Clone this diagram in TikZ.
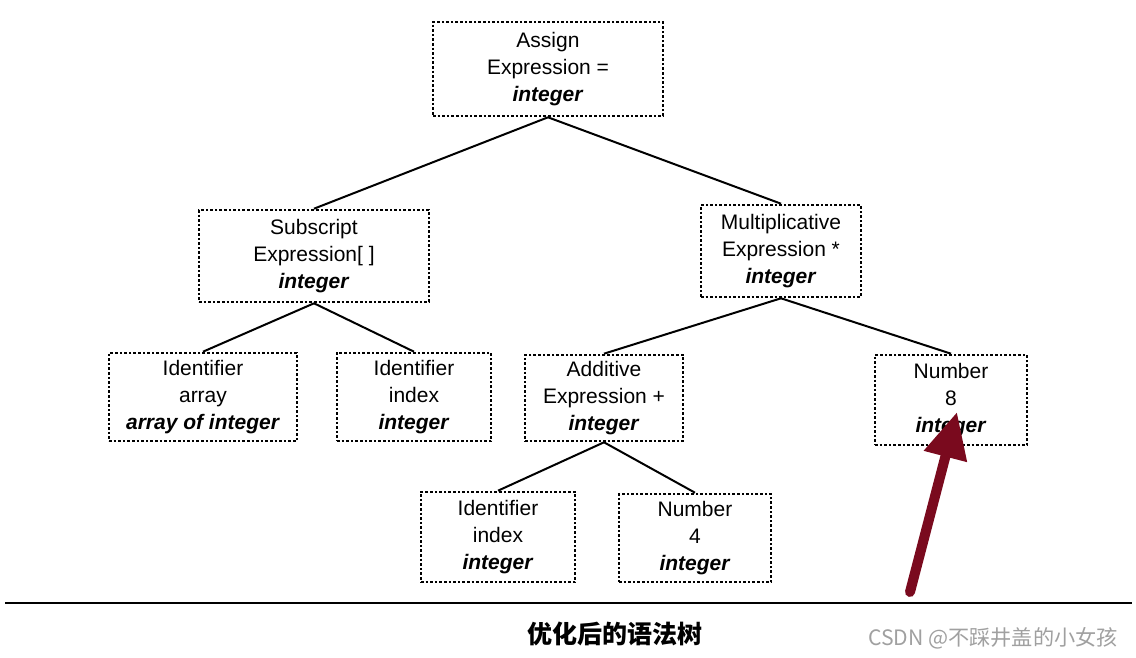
\documentclass[tikz,border=0pt]{standalone}
\usepackage{fontspec}
\setmainfont{Liberation Sans}
\newfontfamily\cjkfont{Noto Sans CJK SC}
\usetikzlibrary{arrows.meta, positioning}
\definecolor{arrowred}{HTML}{7A0A1E}
\definecolor{markgray}{HTML}{A0A0A0}
\newcommand{\tyname}[1]{\textbf{\textit{#1}}}

\begin{document}
\begin{tikzpicture}[
    x=0.5pt, y=-0.5pt,
    treenode/.style={draw, densely dotted, line width=1.3pt, align=center,
                     inner sep=0pt, font=\fontsize{10.5}{13.5}\selectfont},
    branch/.style={line width=1pt},
]
    \useasboundingbox (0,0) rectangle (1136,658);

    % Root
    \node[treenode, minimum width=115pt, minimum height=47pt] (assign) at (548,69) {Assign\\Expression =\\\tyname{integer}};

    % Second level
    \node[treenode, minimum width=115pt, minimum height=46pt] (subscr) at (314,256) {Subscript\\Expression[ ]\\\tyname{integer}};
    \node[treenode, minimum width=80pt, minimum height=46pt] (mult) at (781,251) {Multiplicative\\Expression *\\\tyname{integer}};

    % Third level
    \node[treenode, minimum width=94pt, minimum height=44pt] (idarray) at (203,397) {Identifier\\array\\\tyname{array of integer}};
    \node[treenode, minimum width=77pt, minimum height=44pt] (idindex) at (414,397) {Identifier\\index\\\tyname{integer}};
    \node[treenode, minimum width=79pt, minimum height=43pt] (additive) at (604,398) {Additive\\Expression +\\\tyname{integer}};
    \node[treenode, minimum width=76pt, minimum height=45pt] (num8) at (951,400) {Number\\8\\\tyname{integer}};

    % Fourth level
    \node[treenode, minimum width=77pt, minimum height=45pt] (idindexb) at (498,537) {Identifier\\index\\\tyname{integer}};
    \node[treenode, minimum width=76pt, minimum height=44pt] (num4) at (695,538) {Number\\4\\\tyname{integer}};

    % Connections
    \draw[branch] (assign.south) -- (subscr.north);
    \draw[branch] (assign.south) -- (mult.north);
    \draw[branch] (subscr.south) -- (idarray.north);
    \draw[branch] (subscr.south) -- (idindex.north);
    \draw[branch] (mult.south) -- (additive.north);
    \draw[branch] (mult.south) -- (num8.north);
    \draw[branch] (additive.south) -- (idindexb.north);
    \draw[branch] (additive.south) -- (num4.north);

    % Rule and caption
    \coordinate (ruleleft) at (5,603);
    \coordinate (ruleright) at (1132,603);
    \draw[line width=1pt] (ruleleft) -- (ruleright);
    \node[font=\cjkfont\bfseries\fontsize{12.5}{13}\selectfont] (caption) at (615,634) {优化后的语法树};
    \node[font=\cjkfont\fontsize{10.6}{11}\selectfont, text=markgray] (mark) at (993,638) {CSDN @不踩井盖的小女孩};

    % Highlight arrow
    \coordinate (tailend) at (910,592);
    \coordinate (tipend) at (957,412);
    \draw[-{Triangle[length=23pt,width=21pt]}, arrowred, line width=5pt, line cap=round] (tailend) -- (tipend);
\end{tikzpicture}
\end{document}
